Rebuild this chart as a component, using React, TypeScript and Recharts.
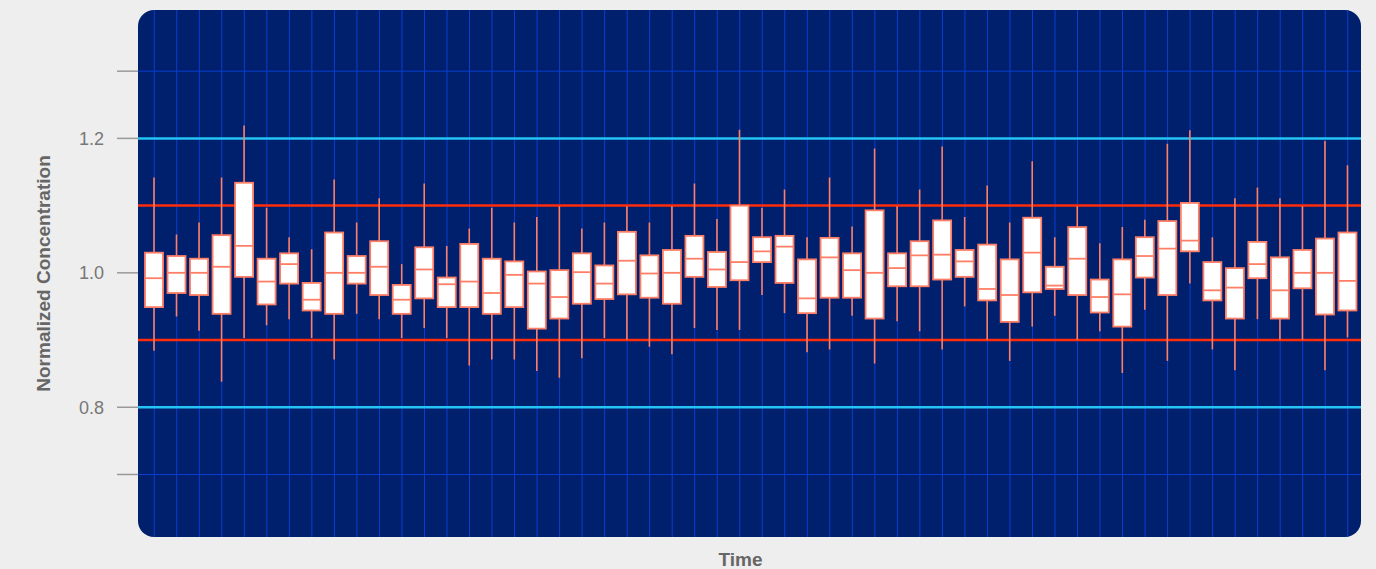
import { ComposedChart, Bar, XAxis, YAxis, CartesianGrid, ReferenceLine } from 'recharts';

document.body.style.margin = '0';
document.body.style.background = '#eeeeee';

const colors = {
  page: '#eeeeee',
  plot: '#001f6d',
  grid: '#0b3fd0',
  cyan: '#25c4f4',
  red: '#ff2d0a',
  box: '#ff7f66',
  tick: '#777777',
  title: '#666666',
};

const FONT = '"Liberation Sans", Arial, sans-serif';

// time index (labels not shown on the axis)
const times = [
  1, 2, 3, 4, 5, 6, 7, 8, 9, 10, 11, 12, 13, 14, 15, 16, 17, 18,
  19, 20, 21, 22, 23, 24, 25, 26, 27, 28, 29, 30, 31, 32, 33, 34, 35, 36,
  37, 38, 39, 40, 41, 42, 43, 44, 45, 46, 47, 48, 49, 50, 51, 52, 53, 54,
];

const whiskerHigh = [
  1.142, 1.057, 1.075, 1.142, 1.219, 1.097, 1.053, 1.035, 1.139, 1.075,
  1.111, 1.013, 1.133, 1.04, 1.066, 1.097, 1.075, 1.083, 1.099, 1.066,
  1.075, 1.099, 1.075, 1.099, 1.133, 1.08, 1.213, 1.097, 1.124, 1.053,
  1.142, 1.069, 1.185, 1.099, 1.124, 1.188, 1.083, 1.13, 1.075, 1.166,
  1.053, 1.099, 1.044, 1.068, 1.079, 1.192, 1.212, 1.053, 1.111, 1.127,
  1.111, 1.099, 1.196, 1.16,
];
const upperQuartile = [
  1.03, 1.025, 1.021, 1.056, 1.134, 1.021, 1.029, 0.985, 1.06, 1.025,
  1.047, 0.982, 1.038, 0.993, 1.043, 1.021, 1.017, 1.002, 1.004, 1.029,
  1.011, 1.061, 1.026, 1.034, 1.055, 1.031, 1.1, 1.053, 1.055, 1.02,
  1.052, 1.029, 1.093, 1.029, 1.047, 1.078, 1.034, 1.042, 1.02, 1.082,
  1.009, 1.068, 0.99, 1.02, 1.053, 1.077, 1.104, 1.016, 1.007, 1.046,
  1.023, 1.034, 1.051, 1.06,
];
const medians = [
  0.992, 1.0, 1.0, 1.009, 1.04, 0.987, 1.013, 0.96, 1.0, 1.0,
  1.009, 0.96, 1.005, 0.983, 0.987, 0.97, 0.997, 0.984, 0.964, 1.001,
  0.984, 1.018, 0.999, 1.0, 1.021, 1.005, 1.016, 1.032, 1.039, 0.962,
  1.023, 1.004, 1.0, 1.007, 1.026, 1.027, 1.017, 0.976, 0.967, 1.03,
  0.981, 1.021, 0.964, 0.968, 1.025, 1.036, 1.048, 0.974, 0.978, 1.013,
  0.974, 1.0, 1.0, 0.988,
];
const lowerQuartile = [
  0.949, 0.97, 0.967, 0.939, 0.994, 0.953, 0.984, 0.944, 0.939, 0.984,
  0.967, 0.939, 0.962, 0.949, 0.949, 0.939, 0.949, 0.917, 0.932, 0.954,
  0.961, 0.968, 0.963, 0.954, 0.994, 0.979, 0.989, 1.016, 0.985, 0.94,
  0.963, 0.963, 0.932, 0.98, 0.98, 0.99, 0.994, 0.959, 0.927, 0.971,
  0.976, 0.967, 0.941, 0.92, 0.993, 0.967, 1.032, 0.959, 0.932, 0.992,
  0.932, 0.977, 0.938, 0.944,
];
const whiskerLow = [
  0.884, 0.935, 0.914, 0.838, 0.903, 0.922, 0.931, 0.903, 0.871, 0.939,
  0.931, 0.903, 0.918, 0.903, 0.862, 0.871, 0.871, 0.854, 0.844, 0.873,
  0.903, 0.9, 0.89, 0.879, 0.918, 0.915, 0.915, 0.967, 0.94, 0.882,
  0.886, 0.936, 0.865, 0.928, 0.913, 0.886, 0.95, 0.9, 0.869, 0.92,
  0.936, 0.9, 0.913, 0.851, 0.945, 0.869, 0.984, 0.886, 0.855, 0.931,
  0.9, 0.9, 0.855, 0.904,
];

const yTicks = [0.7, 0.8, 1.0, 1.2, 1.3];
const yLabelled = [0.8, 1.0, 1.2];
const limitLines = [0.8, 1.2];
const warningLines = [0.9, 1.1];
const outerGrid = [0.7, 1.3];

const data = times.map((t, i) => ({
  t,
  range: [whiskerLow[i], whiskerHigh[i]],
  min: whiskerLow[i],
  q1: lowerQuartile[i],
  median: medians[i],
  q3: upperQuartile[i],
  max: whiskerHigh[i],
}));

const W = 1376;
const H = 569;
const margin = { top: 10, right: 15, bottom: 0, left: 0 };
const Y_AXIS_W = 138;
const X_AXIS_H = 32;

function BoxShape(props: any) {
  const { x, y, width, height, payload } = props;
  if (x == null || y == null || !payload) return null;
  const top = Math.min(y, y + height);
  const h = Math.abs(height);
  const { max, q3, median, q1, min } = payload;
  const k = h / (max - min);
  const py = (v: number) => top + (max - v) * k;
  const cx = x + width / 2;
  return (
    <g>
      <line x1={cx} x2={cx} y1={py(max)} y2={py(min)} stroke={colors.box} strokeWidth={1.6} />
      <rect
        x={x}
        y={py(q3)}
        width={width}
        height={py(q1) - py(q3)}
        fill="#ffffff"
        stroke={colors.box}
        strokeWidth={1.8}
      />
      <line x1={x} x2={x + width} y1={py(median)} y2={py(median)} stroke={colors.box} strokeWidth={1.8} />
    </g>
  );
}

export default function App() {
  return (
    <div style={{ position: 'relative', width: W, height: H, background: colors.page }}>
      <div
        style={{
          position: 'absolute',
          left: margin.left + Y_AXIS_W,
          top: margin.top,
          width: W - margin.left - margin.right - Y_AXIS_W,
          height: H - margin.top - margin.bottom - X_AXIS_H,
          background: colors.plot,
          borderRadius: 16,
        }}
      />
      <ComposedChart
        width={W}
        height={H}
        data={data}
        margin={margin}
        style={{ position: 'absolute', left: 0, top: 0 }}
      >
        <CartesianGrid
          vertical
          horizontal={false}
          stroke={colors.grid}
          strokeWidth={1}
          syncWithTicks
        />
        <XAxis
          dataKey="t"
          height={X_AXIS_H}
          padding={{ left: 5, right: 2 }}
          interval={0}
          tick={() => <g />}
          tickLine={false}
          axisLine={false}
          label={{
            content: ({ viewBox }: any) => (
              <text
                x={viewBox.x + viewBox.width / 2 - 9}
                y={viewBox.y + 29}
                textAnchor="middle"
                fill={colors.title}
                fontFamily={FONT}
                fontWeight="bold"
                fontSize={19}
              >
                Time
              </text>
            ),
          }}
        />
        <YAxis
          type="number"
          domain={[0.607, 1.391]}
          allowDataOverflow
          ticks={yTicks}
          width={Y_AXIS_W}
          axisLine={false}
          tickSize={21}
          tickMargin={13}
          tickLine={{ stroke: '#999999', strokeWidth: 1.5 }}
          tick={{ fill: colors.tick, fontSize: 18, fontFamily: FONT }}
          tickFormatter={(v: number) => (yLabelled.includes(v) ? v.toFixed(1) : '')}
          label={{
            content: ({ viewBox }: any) => {
              const cx = 43;
              const cy = viewBox.y + viewBox.height / 2;
              return (
                <text
                  x={cx}
                  y={cy}
                  transform={`rotate(-90 ${cx} ${cy})`}
                  textAnchor="middle"
                  dominantBaseline="central"
                  fill={colors.title}
                  fontFamily={FONT}
                  fontWeight="bold"
                  fontSize={19}
                >
                  Normalized Concentration
                </text>
              );
            },
          }}
        />
        {outerGrid.map((v) => (
          <ReferenceLine key={`g${v}`} y={v} stroke={colors.grid} strokeWidth={1} zIndex={-50} />
        ))}
        {limitLines.map((v) => (
          <ReferenceLine key={`c${v}`} y={v} stroke={colors.cyan} strokeWidth={2.5} zIndex={-40} />
        ))}
        {warningLines.map((v) => (
          <ReferenceLine key={`r${v}`} y={v} stroke={colors.red} strokeWidth={2.5} zIndex={-40} />
        ))}
        <Bar dataKey="range" barSize={18} shape={BoxShape} isAnimationActive={false} zIndex={500} />
      </ComposedChart>
    </div>
  );
}
